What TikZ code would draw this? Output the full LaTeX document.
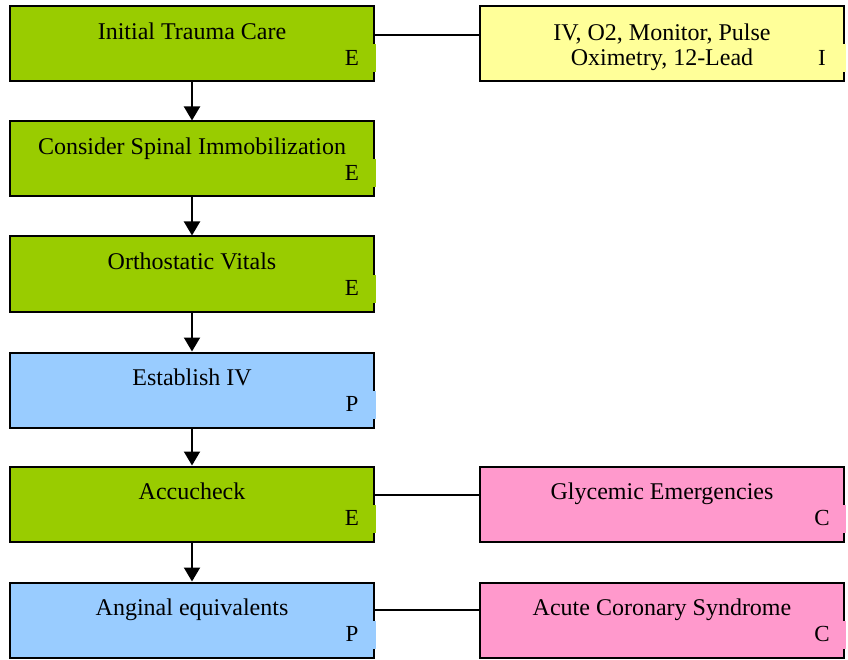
\documentclass[tikz,border=0pt]{standalone}
\usepackage{fontspec}
\setmainfont{Liberation Serif}
\usetikzlibrary{calc,arrows.meta}
\definecolor{stepgreen}{HTML}{99CC00}
\definecolor{stepblue}{HTML}{99CCFF}
\definecolor{stepyellow}{HTML}{FFFF99}
\definecolor{steppink}{HTML}{FF99CC}
\tikzset{
  box/.style={draw=black, line width=2pt, minimum width=364pt, minimum height=75pt,
    inner sep=0pt, outer sep=0pt, anchor=north west},
  title/.style={anchor=base, inner sep=0pt, font=\fontsize{24}{27}\selectfont},
  tag/.style={anchor=base, inner sep=0pt, font=\fontsize{23}{27}\selectfont},
  flow/.style={line width=2pt, -{Triangle[length=14pt,width=16pt]}, shorten >=1pt},
  link/.style={line width=1.6pt, shorten <=1pt, shorten >=1pt}
}
% gap in the right border where the tag letter sits
\newcommand{\tagnotch}[2]{%
  \fill[#2] ($(#1.north east)+(-1.4,38)$) rectangle ($(#1.south east)+(1.6,-9)$);}
% box title on one line and the tag letter
\newcommand{\boxtext}[3]{%
  \node[title] at ($(#1.north)+(0,33)$) {#2};
  \node[tag] at ($(#1.north east)+(-22,59)$) {#3};}
\begin{document}
\begin{tikzpicture}[x=1pt,y=-1pt]
\useasboundingbox (0,0) rectangle (848,660);

% left column
\node[box, fill=stepgreen]  (care)   at (10,6.5)   {};
\node[box, fill=stepgreen]  (spinal) at (10,121.5) {};
\node[box, fill=stepgreen]  (ortho)  at (10,236.5) {};
\node[box, fill=stepblue]   (iv)     at (10,352.5) {};
\node[box, fill=stepgreen]  (accu)   at (10,466.5) {};
\node[box, fill=stepblue]   (angina) at (10,582.5) {};

% right column
\node[box, fill=stepyellow] (monitor)  at (480,6.5)   {};
\node[box, fill=steppink]   (glycemic) at (480,466.5) {};
\node[box, fill=steppink]   (acs)      at (480,582.5) {};

\tagnotch{care}{stepgreen}
\tagnotch{spinal}{stepgreen}
\tagnotch{ortho}{stepgreen}
\tagnotch{iv}{stepblue}
\tagnotch{accu}{stepgreen}
\tagnotch{angina}{stepblue}
\tagnotch{monitor}{stepyellow}
\tagnotch{glycemic}{steppink}
\tagnotch{acs}{steppink}

\boxtext{care}{Initial Trauma Care}{E}
\boxtext{spinal}{Consider Spinal Immobilization}{E}
\boxtext{ortho}{Orthostatic Vitals}{E}
\boxtext{iv}{Establish IV}{P}
\boxtext{accu}{Accucheck}{E}
\boxtext{angina}{Anginal equivalents}{P}
\node[title] at ($(monitor.north)+(0,34)$) {IV, O2, Monitor, Pulse};
\node[title] at ($(monitor.north)+(0,59)$) {Oximetry, 12-Lead};
\node[tag] at ($(monitor.north east)+(-22,59)$) {I};
\boxtext{glycemic}{Glycemic Emergencies}{C}
\boxtext{acs}{Acute Coronary Syndrome}{C}

% main sequence
\draw[flow] (care.south)   -- (spinal.north);
\draw[flow] (spinal.south) -- (ortho.north);
\draw[flow] (ortho.south)  -- (iv.north);
\draw[flow] (iv.south)     -- (accu.north);
\draw[flow] (accu.south)   -- (angina.north);

% side links
\draw[link] ($(care.east)+(0,-9)$)   -- ($(monitor.west)+(0,-9)$);
\draw[link] ($(accu.east)+(0,-9)$)   -- ($(glycemic.west)+(0,-9)$);
\draw[link] ($(angina.east)+(0,-10)$) -- ($(acs.west)+(0,-10)$);
\end{tikzpicture}
\end{document}
